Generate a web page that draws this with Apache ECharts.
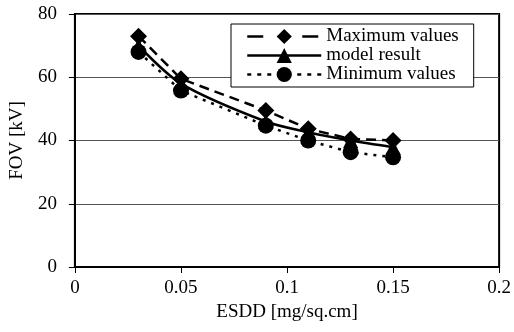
<!DOCTYPE html>
<html>
<head>
<meta charset="utf-8">
<script src="https://cdn.jsdelivr.net/npm/echarts@6/dist/echarts.min.js"></script>
<style>html,body{margin:0;padding:0;background:#fff}#c{width:514px;height:332px}</style>
</head>
<body>
<div id="c"></div>
<script>
const esdd = [0.03, 0.05, 0.09, 0.11, 0.13, 0.15];
const maxValues = [73, 59.5, 49.5, 43.7, 40.5, 40];
const modelResult = [70, 58, 46, 42.6, 40, 37.9];
const minValues = [68, 55.8, 44.7, 40, 36.3, 34.7];
const xTicks = [0, 0.05, 0.1, 0.15, 0.2];
const yTicks = [0, 20, 40, 60, 80];

const font = 'Liberation Serif, Times New Roman, serif';
const pair = (ys) => esdd.map((x, i) => [x, ys[i]]);

const chart = echarts.init(document.getElementById('c'), null, {renderer: 'canvas'});
chart.setOption({
  animation: false,
  backgroundColor: '#fff',
  textStyle: {fontFamily: font, color: '#000'},
  grid: {left: 73, right: 11, top: 14, bottom: 65, show: true, borderColor: '#000', borderWidth: 2, backgroundColor: 'transparent'},
  legend: {
    left: 231, top: 24,
    orient: 'vertical',
    backgroundColor: '#fff',
    borderColor: '#000', borderWidth: 1,
    padding: [3, 15, 3, 15],
    itemWidth: 74, itemHeight: 19, itemGap: 0,
    textStyle: {fontFamily: font, fontSize: 19, color: '#000', lineHeight: 19},
    data: [
      {name: 'Maximum values', lineStyle: {type: [16, 39], width: 2.5}},
      {name: 'model result', lineStyle: {type: 'solid', width: 2.5}},
      {name: 'Minimum values', lineStyle: {type: [4, 6], width: 2.5}}
    ]
  },
  xAxis: {
    type: 'value', min: xTicks[0], max: xTicks[xTicks.length - 1], interval: 0.05,
    name: 'ESDD [mg/sq.cm]', nameLocation: 'middle', nameGap: 36,
    nameTextStyle: {fontFamily: font, fontSize: 19, color: '#000'},
    axisLine: {show: true, lineStyle: {color: '#000', width: 2}},
    axisTick: {show: true, length: 6, lineStyle: {color: '#000', width: 1}},
    axisLabel: {fontFamily: font, fontSize: 19, color: '#000', margin: 12},
    splitLine: {show: false}
  },
  yAxis: {
    type: 'value', min: yTicks[0], max: yTicks[yTicks.length - 1], interval: 20,
    name: 'FOV [kV]', nameLocation: 'middle', nameGap: 44,
    nameTextStyle: {fontFamily: font, fontSize: 19, color: '#000'},
    axisLine: {show: true, lineStyle: {color: '#000', width: 2}},
    axisTick: {show: true, length: 6, lineStyle: {color: '#000', width: 1}},
    axisLabel: {fontFamily: font, fontSize: 19, color: '#000', margin: 18},
    splitLine: {show: true, lineStyle: {color: '#555', width: 1}}
  },
  series: [
    {
      name: 'Maximum values', type: 'line', data: pair(maxValues),
      symbol: 'diamond', symbolSize: 17,
      itemStyle: {color: '#000'},
      lineStyle: {color: '#000', width: 2.5, type: [10, 6]}
    },
    {
      name: 'model result', type: 'line', data: pair(modelResult), smooth: 0.3,
      symbol: 'triangle', symbolSize: 15,
      itemStyle: {color: '#000'},
      lineStyle: {color: '#000', width: 2.5, type: 'solid'}
    },
    {
      name: 'Minimum values', type: 'line', data: pair(minValues),
      symbol: 'circle', symbolSize: 16,
      itemStyle: {color: '#000'},
      lineStyle: {color: '#000', width: 2.5, type: [3, 6]}
    }
  ]
});
</script>
</body>
</html>
